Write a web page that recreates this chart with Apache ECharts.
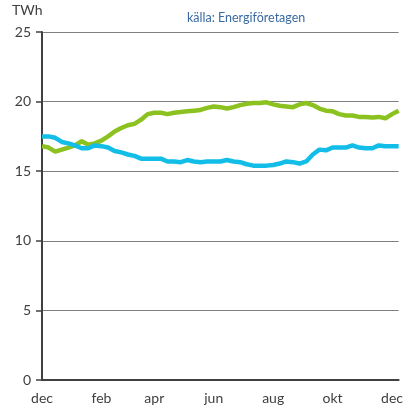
<!DOCTYPE html>
<html lang="sv">
<head>
<meta charset="UTF-8">
<title>TWh</title>
<script src="https://cdn.jsdelivr.net/npm/echarts@6/dist/echarts.min.js"></script>
<style>
  html, body { margin: 0; padding: 0; background: #fff; }
  #main { width: 406px; height: 408px; }
</style>
</head>
<body>
<div id="main"></div>
<script>
// veckovärden, TWh
var green = [16.8, 16.7, 16.4, 16.55, 16.7, 16.85, 17.15, 16.9, 17.0, 17.2,
  17.5, 17.85, 18.1, 18.3, 18.4, 18.7, 19.1, 19.2, 19.2, 19.1,
  19.2, 19.25, 19.3, 19.35, 19.4, 19.55, 19.65, 19.6, 19.5, 19.6,
  19.75, 19.85, 19.9, 19.9, 19.95, 19.8, 19.7, 19.65, 19.6, 19.8,
  19.9, 19.75, 19.5, 19.35, 19.3, 19.1, 19.0, 19.0, 18.9, 18.9,
  18.85, 18.9, 18.8, 19.1, 19.35];
var blue = [17.5, 17.5, 17.4, 17.1, 17.0, 16.85, 16.65, 16.65, 16.85, 16.8,
  16.7, 16.45, 16.35, 16.2, 16.1, 15.9, 15.9, 15.9, 15.9, 15.7,
  15.7, 15.65, 15.8, 15.7, 15.65, 15.7, 15.7, 15.7, 15.8, 15.7,
  15.65, 15.5, 15.4, 15.4, 15.4, 15.45, 15.55, 15.7, 15.65, 15.55,
  15.7, 16.2, 16.55, 16.5, 16.7, 16.7, 16.7, 16.85, 16.7, 16.65,
  16.65, 16.85, 16.8, 16.8, 16.8];
var tickLabels = ['dec', 'feb', 'apr', 'jun', 'aug', 'okt', 'dec'];
var tickIndex = [0, 9, 17, 26, 35, 44, 53];

var weeks = [];
for (var i = 0; i < green.length; i++) {
  var k = tickIndex.indexOf(i);
  weeks.push(k >= 0 ? tickLabels[k] : '');
}

var myChart = echarts.init(document.getElementById('main'));
var option = {
  animation: false,
  textStyle: { fontFamily: 'Lato' },
  title: {
    text: 'källa: Energiföretagen',
    left: 182,
    top: 6,
    textStyle: { fontSize: 12.5, fontWeight: 'normal', color: '#3a6aa0', fontFamily: 'Lato' }
  },
  graphic: [{
    type: 'text',
    left: 12,
    top: 3,
    style: { text: 'TWh', font: '14px Lato', fill: '#404040' }
  }],
  grid: { left: 42, right: 5, top: 32, bottom: 28 },
  xAxis: {
    type: 'category',
    data: weeks,
    boundaryGap: false,
    axisLine: { lineStyle: { color: '#404040', width: 2 } },
    axisTick: { show: false },
    axisLabel: {
      interval: function (idx) { return tickIndex.indexOf(idx) >= 0; },
      color: '#404040',
      fontSize: 14,
      margin: 11
    }
  },
  yAxis: {
    type: 'value',
    min: 0,
    max: 25,
    interval: 5,
    axisLine: { show: true, lineStyle: { color: '#404040', width: 2 } },
    axisTick: { show: true, length: 6, lineStyle: { color: '#404040', width: 1.5 } },
    axisLabel: { color: '#404040', fontSize: 14, margin: 11 },
    splitLine: { lineStyle: { color: '#808080', width: 1 } }
  },
  series: [{
    type: 'line',
    data: green,
    showSymbol: false,
    lineStyle: { color: '#8cc21f', width: 4.5 },
    itemStyle: { color: '#8cc21f' }
  }, {
    type: 'line',
    data: blue,
    showSymbol: false,
    lineStyle: { color: '#12bde8', width: 4.5 },
    itemStyle: { color: '#12bde8' }
  }]
};
myChart.setOption(option);
</script>
</body>
</html>
